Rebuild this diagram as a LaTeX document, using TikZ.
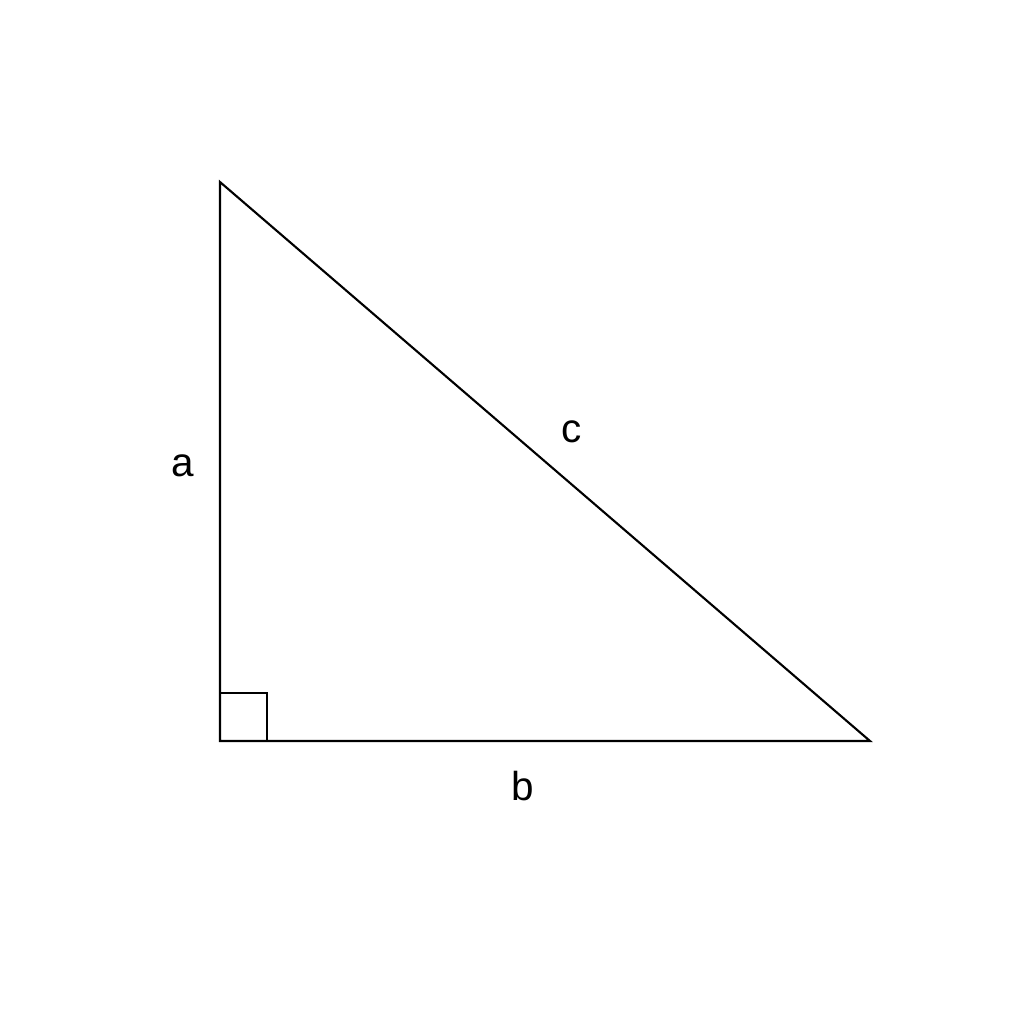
\documentclass[tikz,border=0pt]{standalone}
\usepackage{fontspec}
\setmainfont{Liberation Sans}
\usepackage{tikz}

\begin{document}
\begin{tikzpicture}[x=0.01cm,y=-0.01cm,line width=0.6pt]
            \useasboundingbox[fill=white] (0,0) rectangle (1024,1024);
            \coordinate (A) at (220,182);
            \coordinate (C) at (220,741);
            \coordinate (B) at (870,741);
            \draw (A) -- (C) -- (B) -- cycle;
            \draw (C) ++(0,-48) -- ++(47,0) -- ++(0,48);
            \node[font=\fontsize{11.5}{14}\selectfont] (la) at (183,466) {a};
            \node[font=\fontsize{11.5}{14}\selectfont] (lb) at (523,786) {b};
            \node[font=\fontsize{11.5}{14}\selectfont] (lc) at (572,432) {c};
        \end{tikzpicture}
\end{document}
